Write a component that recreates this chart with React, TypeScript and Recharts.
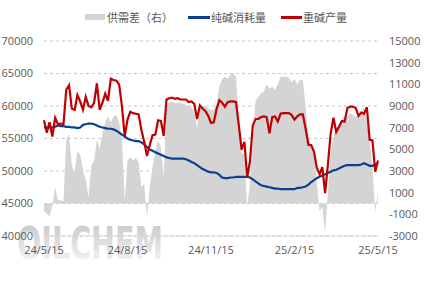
import { ComposedChart, Area, Line, XAxis, YAxis, CartesianGrid } from 'recharts';

// 供需差（右）
const supplyGap = [
  -700, -900, -1200, -200, 1500, 300, 300, 200, 5900, 6400,
  3500, 2800, 4900, 4500, 3100, 2200, 600, 3500, 4000, 5900,
  5000, 6500, 7500, 8000, 7500, 8000, 8200, 7500, 6000, 200,
  4000, 4300, 4000, 4200, 3800, 1500, 1800, -1300, 1500, 3400,
  4900, 5800, 5200, 2500, 9000, 9400, 9400, 9300, 9300, 9300,
  9200, 9100, 9000, 8900, 8500, 7000, 8800, 9000, 9000, 8800,
  8600, 8700, 9200, 10800, 11500, 11700, 11500, 11900, 12000, 11700,
  7400, 4700, 4500, -300, 1800, 5800, 9500, 9800, 10200, 10300,
  11000, 10600, 10800, 10500, 11000, 11700, 11700, 11700, 11600, 11200,
  11500, 11000, 11400, 11400, 9000, 6000, 5500, 5000, 2000, -700,
  -300, -2700, 1000, 4900, 6100, 7000, 7300, 7600, 8000, 8000,
  8300, 8200, 8000, 8200, 8400, 8900, 7400, 5900, 3400, -800,
  1000,
];

// 纯碱消耗量
const consumption = [
  56700, 56700, 56700, 56700, 56800, 57000, 56900, 56900, 56800, 56800,
  56700, 56700, 56600, 56700, 57100, 57200, 57300, 57300, 57200, 57000,
  56800, 56700, 56600, 56500, 56500, 56400, 56200, 55900, 55600, 55300,
  55000, 54800, 54700, 54600, 54600, 54400, 54100, 53700, 53300, 53100,
  52900, 52700, 52500, 52300, 52100, 52000, 51900, 51900, 51900, 51900,
  51900, 51800, 51600, 51400, 51200, 50900, 50600, 50300, 50100, 49900,
  49800, 49800, 49700, 49400, 49000, 48900, 48900, 49000, 49000, 49100,
  49100, 49100, 49100, 49100, 49000, 48700, 48400, 48100, 47800, 47700,
  47600, 47500, 47400, 47300, 47300, 47200, 47200, 47200, 47200, 47200,
  47200, 47400, 47400, 47500, 47600, 47900, 48300, 48600, 48900, 49100,
  49300, 49500, 49700, 49900, 50100, 50200, 50400, 50600, 50800, 50900,
  50900, 50900, 50900, 50900, 51000, 51200, 51000, 50800, 50800, 51000,
  51200,
];

// 重碱产量
const production = [
  57800, 55900, 57500, 55300, 58200, 57200, 57300, 57200, 62500, 63200,
  59600, 59400, 61700, 60700, 59400, 61400, 60000, 59800, 60500, 63500,
  59400, 60500, 61900, 60800, 64200, 64000, 63900, 63300, 60000, 55300,
  57900, 59100, 58900, 58800, 58700, 56300, 54500, 52300, 54000, 55500,
  55600, 57800, 57700, 55400, 61000, 61200, 61300, 61100, 61200, 61000,
  61000, 61000, 60600, 60700, 60300, 58000, 60100, 59600, 59200, 58500,
  57400, 57500, 59500, 60900, 60500, 59900, 60600, 60700, 60700, 60600,
  57000, 53300, 54500, 49000, 51500, 57000, 58000, 58000, 58300, 58400,
  58300, 55800, 58300, 58400, 57600, 58800, 58900, 58900, 58900, 58600,
  57900, 58400, 58700, 58700, 56500, 54000, 54000, 53000, 50500, 49500,
  50600, 46600, 51000, 55800, 58200, 56000, 56800, 57700, 57600, 59700,
  59900, 59900, 59700, 58500, 59000, 58800, 59800, 54800, 54700, 49900,
  51600,
];

const tickPos = [0, 30, 60, 90, 120];
const tickLabels = ['24/5/15', '24/8/15', '24/11/15', '25/2/15', '25/5/15'];
const leftTicks = [40000, 45000, 50000, 55000, 60000, 65000, 70000];
const rightTicks = [-3000, -1000, 1000, 3000, 5000, 7000, 9000, 11000, 13000, 15000];

const data = production.map((v, i) => ({
  idx: i,
  gap: supplyGap[i],
  use: consumption[i],
  prod: v,
}));

const tickStyle = { fontSize: 11, fill: '#595959', fontFamily: 'Open Sans' };
const legendText = { position: 'absolute' as const, top: 9, fontSize: 11, color: '#595959', fontFamily: '"Noto Sans CJK SC"', lineHeight: '16px' };

export default function App() {
  return (
    <div style={{ position: 'absolute', left: 0, top: 0, width: 425, height: 283, background: '#fff', overflow: 'hidden' }}>
      <svg width={425} height={283} style={{ position: 'absolute', left: 0, top: 0 }}>
        <defs>
          <linearGradient id="wm" x1="0" y1="0" x2="0" y2="1">
            <stop offset="0%" stopColor="#c4c4c4" />
            <stop offset="100%" stopColor="#fafafa" />
          </linearGradient>
        </defs>
        <text x={17} y={259} fontSize={44} fontWeight={700} fontFamily="DejaVu Sans Condensed" fill="url(#wm)" textLength={146} lengthAdjust="spacingAndGlyphs">OILCHEM</text>
      </svg>

      <div style={{ position: 'absolute', left: 85, top: 14, width: 20, height: 6, background: '#d4d4d4' }} />
      <span style={{ ...legendText, left: 107 }}>供需差（右）</span>
      <div style={{ position: 'absolute', left: 188, top: 16, width: 22, height: 2.5, background: '#0b3f8f' }} />
      <span style={{ ...legendText, left: 211 }}>纯碱消耗量</span>
      <div style={{ position: 'absolute', left: 281, top: 16, width: 21, height: 2.5, background: '#c00000' }} />
      <span style={{ ...legendText, left: 303 }}>重碱产量</span>

      <div style={{ position: 'absolute', left: 0, top: 0 }}>
        <ComposedChart width={425} height={283} data={data} margin={{ top: 41, right: 0, bottom: 17, left: 0 }}>
          <CartesianGrid yAxisId="left" vertical={false} stroke="#c8c8c8" strokeDasharray="3 3" />
          <XAxis
            dataKey="idx"
            type="number"
            domain={[0, 120]}
            ticks={tickPos}
            tickFormatter={(v: number) => tickLabels[tickPos.indexOf(v)]}
            height={30}
            tick={tickStyle}
            tickLine={false}
            tickMargin={4}
            axisLine={{ stroke: '#d9d9d9' }}
            interval={0}
          />
          <YAxis
            yAxisId="left"
            width={44}
            domain={[40000, 70000]}
            ticks={leftTicks}
            tick={tickStyle}
            tickLine={false}
            axisLine={false}
            tickMargin={5}
            interval={0}
          />
          <YAxis
            yAxisId="right"
            orientation="right"
            width={47}
            domain={[-3000, 15000]}
            ticks={rightTicks}
            tick={tickStyle}
            tickLine={false}
            axisLine={false}
            tickMargin={5}
            interval={0}
          />
          <Area yAxisId="right" dataKey="gap" type="linear" baseValue={0} fill="#d4d4d4" fillOpacity={1} stroke="none" isAnimationActive={false} />
          <Line yAxisId="left" dataKey="use" type="linear" stroke="#0b3f8f" strokeWidth={2.2} dot={false} isAnimationActive={false} />
          <Line yAxisId="left" dataKey="prod" type="linear" stroke="#c00000" strokeWidth={2.2} dot={false} isAnimationActive={false} />
        </ComposedChart>
      </div>
    </div>
  );
}
